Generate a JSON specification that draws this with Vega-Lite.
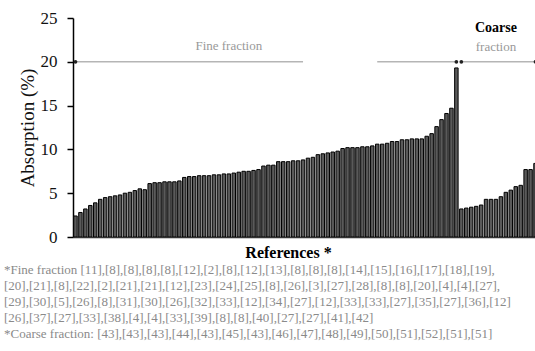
{
  "$schema": "https://vega.github.io/schema/vega-lite/v6.json",
  "autosize": {"type": "none"},
  "padding": {"left": 73, "top": 18, "right": 0, "bottom": 114},
  "width": 462,
  "height": 219,
  "background": "white",
  "config": {
    "view": {"stroke": null},
    "font": "Liberation Serif"
  },
  "title": {
    "text": [
      "*Fine fraction [11],[8],[8],[8],[8],[12],[2],[8],[12],[13],[8],[8],[8],[14],[15],[16],[17],[18],[19],",
      "[20],[21],[8],[22],[2],[21],[21],[12],[23],[24],[25],[8],[26],[3],[27],[28],[8],[8],[20],[4],[4],[27],",
      "[29],[30],[5],[26],[8],[31],[30],[26],[32],[33],[12],[34],[27],[12],[33],[33],[27],[35],[27],[36],[12]",
      "[26],[37],[27],[33],[38],[4],[4],[33],[39],[8],[8],[40],[27],[27],[41],[42]",
      "*Coarse fraction: [43],[43],[43],[44],[43],[45],[43],[46],[47],[48],[49],[50],[51],[52],[51],[51]"
    ],
    "orient": "bottom",
    "anchor": "start",
    "dx": -14,
    "offset": 4,
    "font": "Liberation Serif",
    "fontSize": 13,
    "fontWeight": "normal",
    "color": "#8a8a8a",
    "lineHeight": 16
  },
  "datasets": {
    "refs": [
      {"ref": 1, "fraction": "Fine", "absorption": 2.4},
      {"ref": 2, "fraction": "Fine", "absorption": 2.8},
      {"ref": 3, "fraction": "Fine", "absorption": 3.2},
      {"ref": 4, "fraction": "Fine", "absorption": 3.6},
      {"ref": 5, "fraction": "Fine", "absorption": 3.9},
      {"ref": 6, "fraction": "Fine", "absorption": 4.3},
      {"ref": 7, "fraction": "Fine", "absorption": 4.5},
      {"ref": 8, "fraction": "Fine", "absorption": 4.6},
      {"ref": 9, "fraction": "Fine", "absorption": 4.7},
      {"ref": 10, "fraction": "Fine", "absorption": 4.8},
      {"ref": 11, "fraction": "Fine", "absorption": 5.0},
      {"ref": 12, "fraction": "Fine", "absorption": 5.1},
      {"ref": 13, "fraction": "Fine", "absorption": 5.3},
      {"ref": 14, "fraction": "Fine", "absorption": 5.5},
      {"ref": 15, "fraction": "Fine", "absorption": 5.4},
      {"ref": 16, "fraction": "Fine", "absorption": 6.1},
      {"ref": 17, "fraction": "Fine", "absorption": 6.2},
      {"ref": 18, "fraction": "Fine", "absorption": 6.2},
      {"ref": 19, "fraction": "Fine", "absorption": 6.3},
      {"ref": 20, "fraction": "Fine", "absorption": 6.3},
      {"ref": 21, "fraction": "Fine", "absorption": 6.3},
      {"ref": 22, "fraction": "Fine", "absorption": 6.4},
      {"ref": 23, "fraction": "Fine", "absorption": 6.8},
      {"ref": 24, "fraction": "Fine", "absorption": 6.9},
      {"ref": 25, "fraction": "Fine", "absorption": 6.9},
      {"ref": 26, "fraction": "Fine", "absorption": 7.0},
      {"ref": 27, "fraction": "Fine", "absorption": 7.0},
      {"ref": 28, "fraction": "Fine", "absorption": 7.0},
      {"ref": 29, "fraction": "Fine", "absorption": 7.1},
      {"ref": 30, "fraction": "Fine", "absorption": 7.1},
      {"ref": 31, "fraction": "Fine", "absorption": 7.2},
      {"ref": 32, "fraction": "Fine", "absorption": 7.2},
      {"ref": 33, "fraction": "Fine", "absorption": 7.3},
      {"ref": 34, "fraction": "Fine", "absorption": 7.4},
      {"ref": 35, "fraction": "Fine", "absorption": 7.5},
      {"ref": 36, "fraction": "Fine", "absorption": 7.5},
      {"ref": 37, "fraction": "Fine", "absorption": 7.6},
      {"ref": 38, "fraction": "Fine", "absorption": 7.7},
      {"ref": 39, "fraction": "Fine", "absorption": 8.1},
      {"ref": 40, "fraction": "Fine", "absorption": 8.2},
      {"ref": 41, "fraction": "Fine", "absorption": 8.2},
      {"ref": 42, "fraction": "Fine", "absorption": 8.6},
      {"ref": 43, "fraction": "Fine", "absorption": 8.6},
      {"ref": 44, "fraction": "Fine", "absorption": 8.6},
      {"ref": 45, "fraction": "Fine", "absorption": 8.7},
      {"ref": 46, "fraction": "Fine", "absorption": 8.7},
      {"ref": 47, "fraction": "Fine", "absorption": 8.8},
      {"ref": 48, "fraction": "Fine", "absorption": 9.0},
      {"ref": 49, "fraction": "Fine", "absorption": 9.1},
      {"ref": 50, "fraction": "Fine", "absorption": 9.4},
      {"ref": 51, "fraction": "Fine", "absorption": 9.5},
      {"ref": 52, "fraction": "Fine", "absorption": 9.6},
      {"ref": 53, "fraction": "Fine", "absorption": 9.7},
      {"ref": 54, "fraction": "Fine", "absorption": 9.8},
      {"ref": 55, "fraction": "Fine", "absorption": 10.1},
      {"ref": 56, "fraction": "Fine", "absorption": 10.2},
      {"ref": 57, "fraction": "Fine", "absorption": 10.2},
      {"ref": 58, "fraction": "Fine", "absorption": 10.2},
      {"ref": 59, "fraction": "Fine", "absorption": 10.3},
      {"ref": 60, "fraction": "Fine", "absorption": 10.3},
      {"ref": 61, "fraction": "Fine", "absorption": 10.4},
      {"ref": 62, "fraction": "Fine", "absorption": 10.6},
      {"ref": 63, "fraction": "Fine", "absorption": 10.6},
      {"ref": 64, "fraction": "Fine", "absorption": 10.7},
      {"ref": 65, "fraction": "Fine", "absorption": 10.9},
      {"ref": 66, "fraction": "Fine", "absorption": 10.9},
      {"ref": 67, "fraction": "Fine", "absorption": 11.1},
      {"ref": 68, "fraction": "Fine", "absorption": 11.1},
      {"ref": 69, "fraction": "Fine", "absorption": 11.2},
      {"ref": 70, "fraction": "Fine", "absorption": 11.2},
      {"ref": 71, "fraction": "Fine", "absorption": 11.2},
      {"ref": 72, "fraction": "Fine", "absorption": 11.5},
      {"ref": 73, "fraction": "Fine", "absorption": 11.8},
      {"ref": 74, "fraction": "Fine", "absorption": 12.6},
      {"ref": 75, "fraction": "Fine", "absorption": 13.4},
      {"ref": 76, "fraction": "Fine", "absorption": 14.1},
      {"ref": 77, "fraction": "Fine", "absorption": 14.7},
      {"ref": 78, "fraction": "Fine", "absorption": 19.3},
      {"ref": 79, "fraction": "Coarse", "absorption": 3.2},
      {"ref": 80, "fraction": "Coarse", "absorption": 3.3},
      {"ref": 81, "fraction": "Coarse", "absorption": 3.4},
      {"ref": 82, "fraction": "Coarse", "absorption": 3.5},
      {"ref": 83, "fraction": "Coarse", "absorption": 3.65},
      {"ref": 84, "fraction": "Coarse", "absorption": 4.3},
      {"ref": 85, "fraction": "Coarse", "absorption": 4.3},
      {"ref": 86, "fraction": "Coarse", "absorption": 4.3},
      {"ref": 87, "fraction": "Coarse", "absorption": 4.6},
      {"ref": 88, "fraction": "Coarse", "absorption": 5.1},
      {"ref": 89, "fraction": "Coarse", "absorption": 5.35},
      {"ref": 90, "fraction": "Coarse", "absorption": 5.75},
      {"ref": 91, "fraction": "Coarse", "absorption": 5.9},
      {"ref": 92, "fraction": "Coarse", "absorption": 7.7},
      {"ref": 93, "fraction": "Coarse", "absorption": 7.7},
      {"ref": 94, "fraction": "Coarse", "absorption": 8.4}
    ],
    "brackets": [
      {"start": 1, "end": 47, "level": 20},
      {"start": 62, "end": 78, "level": 20},
      {"start": 79, "end": 94, "level": 20}
    ],
    "bracketEnds": [
      {"ref": 1, "level": 20},
      {"ref": 78, "level": 20},
      {"ref": 79, "level": 20},
      {"ref": 94, "level": 20}
    ]
  },
  "layer": [
    {
      "data": {"name": "refs"},
      "mark": {"type": "bar", "fill": "#5a5a5a", "stroke": "#000000", "strokeWidth": 1, "clip": true},
      "encoding": {
        "x": {
          "field": "ref",
          "type": "ordinal",
          "scale": {"range": [0, 465], "paddingInner": 0.3, "paddingOuter": 0.15},
          "axis": {
            "title": "References *",
            "labels": false,
            "ticks": false,
            "domainColor": "#333333",
            "domainWidth": 1.5,
            "titleFont": "Liberation Serif",
            "titleFontSize": 16,
            "titleFontWeight": "bold",
            "titleColor": "#000000",
            "titlePadding": 7,
            "titleX": 215
          }
        },
        "y": {
          "field": "absorption",
          "type": "quantitative",
          "scale": {"domain": [0, 25], "nice": false},
          "axis": {
            "title": "Absorption (%)",
            "values": [0, 5, 10, 15, 20, 25],
            "grid": false,
            "domainColor": "#000000",
            "domainWidth": 1.5,
            "tickColor": "#000000",
            "tickWidth": 1.5,
            "tickSize": 6,
            "labelPadding": 10,
            "labelFont": "Liberation Serif",
            "labelFontSize": 17,
            "labelColor": "#111111",
            "titleFont": "Liberation Serif",
            "titleFontSize": 19,
            "titleFontWeight": "normal",
            "titleColor": "#111111",
            "titlePadding": 3
          }
        }
      }
    },
    {
      "data": {"name": "brackets"},
      "mark": {"type": "rule", "color": "#b5b5b5", "strokeWidth": 1.5},
      "encoding": {
        "x": {"field": "start", "type": "ordinal"},
        "x2": {"field": "end"},
        "y": {"field": "level", "type": "quantitative"}
      }
    },
    {
      "data": {"name": "bracketEnds"},
      "mark": {"type": "point", "filled": true, "color": "#222222", "size": 14, "opacity": 1},
      "encoding": {
        "x": {"field": "ref", "type": "ordinal"},
        "y": {"field": "level", "type": "quantitative"}
      }
    },
    {
      "data": {"values": [
        {"ref": 32, "level": 21.8, "label": "Fine fraction"},
        {"ref": 86, "level": 21.7, "label": "fraction"}
      ]},
      "mark": {"type": "text", "font": "Liberation Serif", "fontSize": 13, "color": "#999999", "baseline": "middle", "align": "center"},
      "encoding": {
        "x": {"field": "ref", "type": "ordinal"},
        "y": {"field": "level", "type": "quantitative"},
        "text": {"field": "label"}
      }
    },
    {
      "data": {"values": [
        {"ref": 86, "level": 23.85, "label": "Coarse"}
      ]},
      "mark": {"type": "text", "font": "Liberation Serif", "fontSize": 14, "fontWeight": "bold", "color": "#000000", "baseline": "middle", "align": "center"},
      "encoding": {
        "x": {"field": "ref", "type": "ordinal"},
        "y": {"field": "level", "type": "quantitative"},
        "text": {"field": "label"}
      }
    }
  ]
}
